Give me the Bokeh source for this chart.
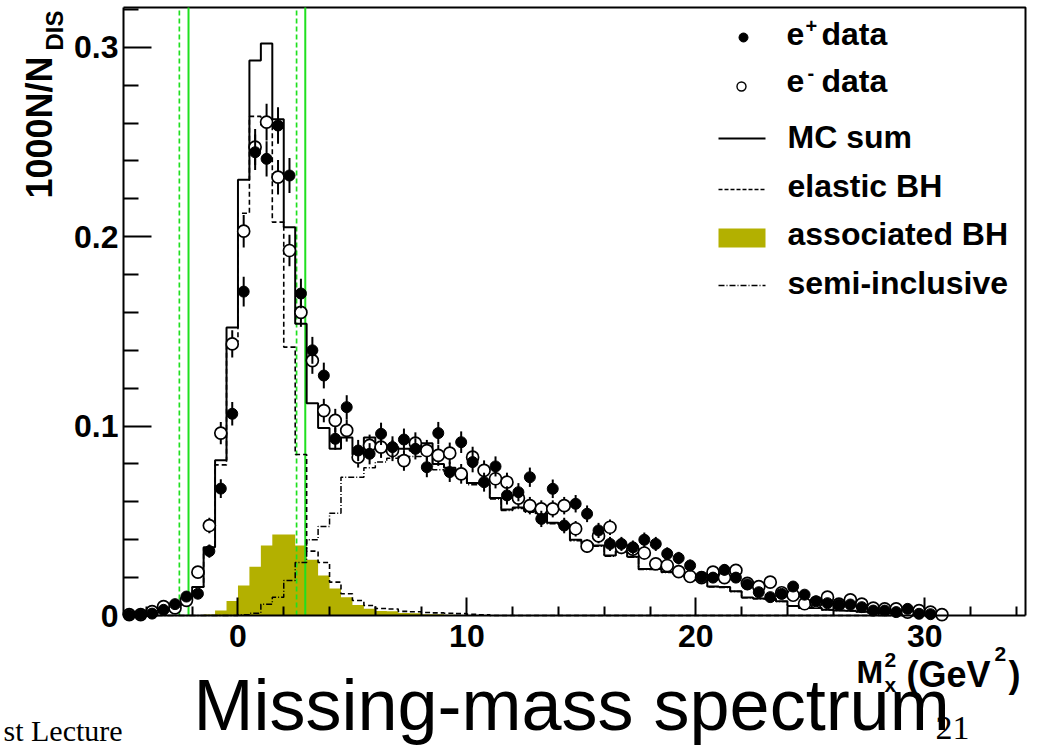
import math
import numpy as np
from bokeh.plotting import figure
from bokeh.models import Range1d, FixedTicker, Label, LinearAxis, CustomJSTickFormatter
from bokeh.embed import file_html
from bokeh.resources import INLINE

# ---- binning: 0.5 GeV^2 bins from -5 to 31 GeV^2 ----
BIN_LO = -5.0
BIN_W = 0.5

# 1000 N / N_DIS per bin
mc_sum = [
    0.0004, 0.0008, 0.0015, 0.0030, 0.0050, 0.0085, 0.0150, 0.0360, 0.0820, 0.1520,
    0.2300, 0.2930, 0.3020, 0.2620, 0.2050, 0.1540, 0.1120, 0.0990, 0.0880, 0.0940,
    0.0850, 0.0940, 0.0900, 0.0890, 0.0880, 0.0870, 0.0910, 0.0800, 0.0780, 0.0750,
    0.0700, 0.0695, 0.0620, 0.0560, 0.0570, 0.0550, 0.0540, 0.0490, 0.0480, 0.0400,
    0.0380, 0.0370, 0.0317, 0.0340, 0.0310, 0.0246, 0.0246, 0.0230, 0.0220, 0.0200,
    0.0187, 0.0153, 0.0150, 0.0128, 0.0095, 0.0090, 0.0088, 0.0075, 0.0050, 0.0040,
    0.0039, 0.0030, 0.0027, 0.0025, 0.0020, 0.0016, 0.0012, 0.0010, 0.0008, 0.0005,
    0.0003, 0.0002]

elastic_bh = [
    0.0004, 0.0008, 0.0015, 0.0030, 0.0050, 0.0085, 0.0150, 0.0355, 0.0795, 0.1446,
    0.2124, 0.2635, 0.2590, 0.2077, 0.1417, 0.0850, 0.0340, 0.0280, 0.0176, 0.0115,
    0.0079, 0.0053, 0.0037, 0.0034, 0.0022, 0.0020, 0.0016, 0.0014, 0.0012, 0.0010,
    0.0006, 0.0004, 0.0, 0.0, 0.0, 0.0, 0.0, 0.0, 0.0, 0.0,
    0.0, 0.0, 0.0, 0.0, 0.0, 0.0, 0.0, 0.0, 0.0, 0.0,
    0.0, 0.0, 0.0, 0.0, 0.0, 0.0, 0.0, 0.0, 0.0, 0.0,
    0.0, 0.0, 0.0, 0.0, 0.0, 0.0, 0.0, 0.0, 0.0, 0.0,
    0.0, 0.0]

associated_bh = [
    0.0, 0.0, 0.0, 0.0, 0.0, 0.0, 0.0, 0.0005, 0.0027, 0.0076,
    0.0158, 0.0258, 0.0370, 0.0427, 0.0427, 0.0370, 0.0294, 0.0211, 0.0143, 0.0097,
    0.0055, 0.0035, 0.0024, 0.0022, 0.0013, 0.0012, 0.0007, 0.0006, 0.0004, 0.0003,
    0.0, 0.0, 0.0, 0.0, 0.0, 0.0, 0.0, 0.0, 0.0, 0.0,
    0.0, 0.0, 0.0, 0.0, 0.0, 0.0, 0.0, 0.0, 0.0, 0.0,
    0.0, 0.0, 0.0, 0.0, 0.0, 0.0, 0.0, 0.0, 0.0, 0.0,
    0.0, 0.0, 0.0, 0.0, 0.0, 0.0, 0.0, 0.0, 0.0, 0.0,
    0.0, 0.0]

semi_inclusive = [
    0.0, 0.0, 0.0, 0.0, 0.0, 0.0, 0.0, 0.0, 0.0, 0.0,
    0.0004, 0.0012, 0.0060, 0.0097, 0.0185, 0.0280, 0.0400, 0.0470, 0.0540, 0.0730,
    0.0730, 0.0780, 0.0810, 0.0830, 0.0840, 0.0840, 0.0850, 0.0770, 0.0760, 0.0730,
    0.0690, 0.0690, 0.0615, 0.0555, 0.0565, 0.0545, 0.0535, 0.0485, 0.0475, 0.0395,
    0.0375, 0.0365, 0.0313, 0.0336, 0.0307, 0.0243, 0.0243, 0.0227, 0.0218, 0.0198,
    0.0185, 0.0151, 0.0148, 0.0127, 0.0094, 0.0089, 0.0087, 0.0074, 0.0049, 0.0039,
    0.0038, 0.0029, 0.0026, 0.0024, 0.0019, 0.0015, 0.0011, 0.0009, 0.0007, 0.0004,
    0.0002, 0.0001]

nan = float("nan")
e_plus = [
    0.0003, 0.0005, 0.0010, 0.0030, 0.0060, 0.0100, 0.0115, 0.0340, 0.0670, 0.1065,
    0.1710, 0.2446, 0.2411, 0.2587, 0.2323, 0.1700, 0.1400, 0.1267, 0.0933, 0.1100,
    0.0871, 0.0854, 0.0959, 0.0889, 0.0929, 0.0880, 0.0783, 0.0963, 0.0757, 0.0915,
    0.0810, 0.0704, 0.0787, 0.0634, 0.0651, 0.0730, 0.0510, 0.0669, 0.0475, 0.0590,
    0.0537, 0.0449, 0.0378, 0.0378, 0.0360, 0.0400, 0.0378, 0.0326, 0.0303, 0.0264,
    0.0202, 0.0200, 0.0241, 0.0200, 0.0164, 0.0123, 0.0097, 0.0114, 0.0153, 0.0110,
    0.0075, 0.0065, 0.0058, 0.0058, 0.0044, 0.0026, 0.0026, 0.0018, 0.0035, 0.0009,
    0.0007, nan]
e_plus_err = [
    0.0003, 0.0004, 0.0006, 0.0010, 0.0015, 0.0019, 0.0020, 0.0035, 0.0050, 0.0062,
    0.0079, 0.0094, 0.0093, 0.0097, 0.0092, 0.0078, 0.0071, 0.0068, 0.0058, 0.0063,
    0.0056, 0.0056, 0.0059, 0.0057, 0.0058, 0.0056, 0.0053, 0.0059, 0.0052, 0.0057,
    0.0054, 0.0050, 0.0053, 0.0048, 0.0048, 0.0051, 0.0043, 0.0049, 0.0041, 0.0046,
    0.0044, 0.0040, 0.0037, 0.0037, 0.0036, 0.0038, 0.0037, 0.0034, 0.0033, 0.0031,
    0.0027, 0.0027, 0.0030, 0.0027, 0.0024, 0.0021, 0.0019, 0.0020, 0.0024, 0.0020,
    0.0016, 0.0015, 0.0014, 0.0014, 0.0013, 0.0010, 0.0010, 0.0008, 0.0011, 0.0006,
    0.0005, nan]

e_minus = [
    0.0005, 0.0005, 0.0020, 0.0047, 0.0040, 0.0080, 0.0229, 0.0475, 0.0963, 0.1434,
    0.2029, 0.2473, 0.2605, 0.2314, 0.1927, 0.1600, 0.1346, 0.1082, 0.1030, 0.0977,
    0.0836, 0.0898, 0.0889, 0.0871, 0.0818, 0.0910, 0.0871, 0.0845, 0.0857, 0.0748,
    0.0836, 0.0766, 0.0722, 0.0704, 0.0620, 0.0580, 0.0563, 0.0563, 0.0580, 0.0458,
    0.0366, 0.0420, 0.0466, 0.0360, 0.0350, 0.0330, 0.0273, 0.0264, 0.0232, 0.0206,
    0.0200, 0.0229, 0.0200, 0.0238, 0.0170, 0.0152, 0.0176, 0.0120, 0.0107, 0.0062,
    0.0070, 0.0097, 0.0060, 0.0083, 0.0060, 0.0039, 0.0035, 0.0035, 0.0018, 0.0026,
    0.0018, 0.0005]
e_minus_err = [
    0.0004, 0.0004, 0.0008, 0.0013, 0.0012, 0.0017, 0.0029, 0.0041, 0.0059, 0.0072,
    0.0086, 0.0095, 0.0097, 0.0091, 0.0083, 0.0076, 0.0070, 0.0062, 0.0061, 0.0059,
    0.0055, 0.0057, 0.0057, 0.0056, 0.0054, 0.0057, 0.0056, 0.0055, 0.0056, 0.0052,
    0.0055, 0.0053, 0.0051, 0.0050, 0.0047, 0.0046, 0.0045, 0.0045, 0.0046, 0.0041,
    0.0036, 0.0039, 0.0041, 0.0036, 0.0036, 0.0035, 0.0031, 0.0031, 0.0029, 0.0027,
    0.0027, 0.0029, 0.0027, 0.0029, 0.0025, 0.0023, 0.0025, 0.0021, 0.0020, 0.0015,
    0.0016, 0.0019, 0.0015, 0.0017, 0.0015, 0.0012, 0.0011, 0.0011, 0.0008, 0.0010,
    0.0008, 0.0004]

# exclusive-region cuts on M_x^2 (GeV^2)
cuts_solid = [-2.16, 2.94]
cuts_dashed = [-2.56, 2.56]

x_major = [0, 10, 20, 30]
x_minor = [-4, -2, 2, 4, 6, 8, 12, 14, 16, 18, 22, 24, 26, 28, 32, 34]
y_major = [0.0, 0.1, 0.2, 0.3]
y_minor = [0.02, 0.04, 0.06, 0.08, 0.12, 0.14, 0.16, 0.18,
           0.22, 0.24, 0.26, 0.28, 0.32]

OLIVE = "#b3b000"
GREEN = "#1fe01f"
FONT = "Liberation Sans"

# ---- canvas and axes-box geometry (pixels) ----
W, H = 1041, 748
BOX_L, BOX_R, BOX_T, BOX_B = 123, 1025, 7, 615
X_START, X_END = -5.0, 34.4
Y_START, Y_END = 0.0, 0.321

# the plotting frame spans the whole canvas; the axes are pinned to the box
UX = (X_END - X_START) / (BOX_R - BOX_L)
UY = (Y_END - Y_START) / (BOX_B - BOX_T)
CANVAS_X = (X_START - BOX_L * UX, X_END + (W - BOX_R) * UX)
CANVAS_Y = (Y_START - (H - BOX_B) * UY, Y_END + BOX_T * UY)


def sx(px):
    return CANVAS_X[0] + px * UX


def sy(py):
    return CANVAS_Y[1] - py * UY


n = len(mc_sum)
edges = BIN_LO + BIN_W * np.arange(n + 1)
centers = 0.5 * (edges[:-1] + edges[1:])

p = figure(width=W, height=H, x_range=Range1d(*CANVAS_X),
           y_range=Range1d(*CANVAS_Y), output_backend="svg",
           toolbar_location=None, x_axis_location=None, y_axis_location=None,
           min_border=0, min_border_left=0, min_border_right=0,
           min_border_top=0, min_border_bottom=0)
p.background_fill_color = "white"
p.border_fill_color = "white"
p.outline_line_color = None
p.xgrid.visible = False
p.ygrid.visible = False

xaxis = LinearAxis(fixed_location=Y_START, bounds=(X_START, X_END))
yaxis = LinearAxis(fixed_location=X_START, bounds=(Y_START, Y_END))
p.add_layout(xaxis, "below")
p.add_layout(yaxis, "left")

for ax, major, minor, tin, tmin in ((xaxis, x_major, x_minor, 18, 9),
                                    (yaxis, y_major, y_minor, 28, 15)):
    ax.ticker = FixedTicker(ticks=major, minor_ticks=minor)
    ax.major_tick_in = tin
    ax.major_tick_out = 0
    ax.minor_tick_in = tmin
    ax.minor_tick_out = 0
    ax.axis_line_width = 2
    ax.major_tick_line_width = 2
    ax.minor_tick_line_width = 2
    ax.major_label_text_font = FONT
    ax.major_label_text_font_style = "bold"
    ax.major_label_text_font_size = "32px"
    ax.major_label_text_color = "black"

xaxis.major_label_standoff = 9
yaxis.major_label_standoff = 5
yaxis.formatter = CustomJSTickFormatter(
    code="return tick < 1e-9 ? '0' : tick.toFixed(1);")

# top and right edges of the axes box
p.line([X_START, X_END, X_END], [Y_END, Y_END, Y_START],
       line_color="black", line_width=2)

# associated BH as a filled step area
xs, ys = [edges[0]], [0.0]
for i, v in enumerate(associated_bh):
    xs += [edges[i], edges[i + 1]]
    ys += [v, v]
xs.append(edges[-1])
ys.append(0.0)
p.patch(xs, ys, fill_color=OLIVE, line_color=None)

# cut lines
p.segment(x0=cuts_dashed, y0=Y_START, x1=cuts_dashed, y1=Y_END,
          line_color=GREEN, line_width=1.7, line_dash="5 3")
p.segment(x0=cuts_solid, y0=Y_START, x1=cuts_solid, y1=Y_END,
          line_color=GREEN, line_width=2)

# MC histograms
p.step(edges, list(semi_inclusive) + [semi_inclusive[-1]], mode="after",
       line_color="black", line_width=1.5, line_dash="6 2 1 2")
p.step(edges, list(elastic_bh) + [elastic_bh[-1]], mode="after",
       line_color="black", line_width=1.6, line_dash="5 3")
p.step(edges, list(mc_sum) + [mc_sum[-1]], mode="after",
       line_color="black", line_width=2)

# data points with statistical errors
em = np.array(e_minus)
emerr = np.array(e_minus_err)
p.segment(x0=centers, y0=em - emerr, x1=centers, y1=em + emerr,
          line_color="black", line_width=2)
p.scatter(centers, em, marker="circle", size=12, fill_color="white",
          line_color="black", line_width=1.7)

ep = np.array(e_plus)
eperr = np.array(e_plus_err)
p.segment(x0=centers, y0=ep - eperr, x1=centers, y1=ep + eperr,
          line_color="black", line_width=2)
p.scatter(centers, ep, marker="circle", size=11, fill_color="black",
          line_color="black")

# ---- legend ----
p.scatter([sx(743)], [sy(37)], marker="circle", size=9, fill_color="black",
          line_color="black")
p.scatter([sx(741)], [sy(86)], marker="circle", size=9, fill_color="white",
          line_color="black", line_width=1.4)
p.line([sx(718), sx(765)], [sy(138), sy(138)], line_color="black", line_width=2)
p.line([sx(718), sx(765)], [sy(189), sy(189)], line_color="black",
       line_width=1.5, line_dash="4 2")
p.quad(left=[sx(718)], right=[sx(765)], top=[sy(228)], bottom=[sy(247)],
       fill_color=OLIVE, line_color=None)
p.line([sx(718), sx(765)], [sy(285), sy(285)], line_color="black",
       line_width=1.5, line_dash="6 2 1 2")

MID = 0.35  # height of the text-box middle above the baseline, in em


def add_text(text, px, base, size, style="bold", font=FONT, vertical=False,
             color="black"):
    """Place text by its left end and its baseline, in canvas pixels."""
    if vertical:
        x, y, angle = sx(base - MID * size), sy(px), math.pi / 2
    else:
        x, y, angle = sx(px), sy(base - MID * size), 0.0
    p.add_layout(Label(x=x, y=y, text=text, text_font=font,
                       text_font_size=f"{size}px", text_font_style=style,
                       text_color=color, text_align="left",
                       text_baseline="middle", angle=angle))


add_text("e", 786, 45, 32)
add_text("+", 805, 32, 20)
add_text("data", 821, 45, 32)
add_text("e", 786, 92, 32)
add_text("-", 807, 79, 20)
add_text("data", 821, 92, 32)
add_text("MC sum", 787, 148, 32)
add_text("elastic BH", 787, 197, 32)
add_text("associated BH", 787, 245, 32)
add_text("semi-inclusive", 787, 294, 32)

# axis titles (vertical ones: px is the lower end, base the baseline x)
add_text("1000N/N", 198, 52, 36, vertical=True)
add_text("DIS", 50, 62, 24, vertical=True)
add_text("M", 856, 683, 32)
add_text("2", 884, 667, 21)
add_text("x", 884, 691, 21)
add_text("(GeV", 906, 687, 36)
add_text("2", 994, 661, 21)
add_text(")", 1008, 687, 36)

# slide texts
add_text("Missing-mass spectrum", 193, 730, 72, style="normal")
add_text("st Lecture", 3, 740, 30, style="normal", font="Liberation Serif")
add_text("21", 935, 739, 34, style="normal", font="Liberation Serif")

open("out.html", "w").write(file_html(p, INLINE))
